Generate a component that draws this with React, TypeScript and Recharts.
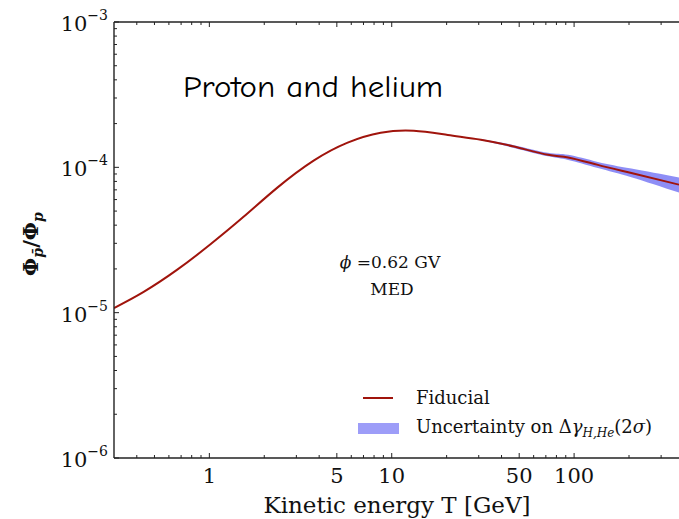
import React from 'react';
import { ComposedChart, Line, Area, XAxis, YAxis } from 'recharts';

// Kinetic energy T [GeV]
const energies = [0.3, 0.434, 0.667, 1.01, 1.54, 2.36, 3.73, 5.73, 8.7, 13.2, 20.3, 30.8, 46.8, 71.9, 92.7, 135, 206, 376];
// Fiducial antiproton / proton ratio
const fiducial = [1.076e-5, 1.384e-5, 1.976e-5, 2.942e-5, 4.563e-5, 7.25e-5, 1.112e-4, 1.479e-4, 1.73e-4, 1.786e-4, 1.67e-4, 1.55e-4, 1.39e-4, 1.22e-4, 1.17e-4, 1.04e-4, 9.14e-5, 7.6e-5];
// Uncertainty band on Delta gamma_{H,He} (2 sigma)
const bandLow = [null, null, null, null, null, null, null, null, null, null, null, 1.535e-4, 1.36e-4, 1.19e-4, 1.125e-4, 0.99e-4, 0.855e-4, 0.67e-4];
const bandHigh = [null, null, null, null, null, null, null, null, null, null, null, 1.565e-4, 1.42e-4, 1.26e-4, 1.22e-4, 1.09e-4, 0.98e-4, 0.85e-4];

const xTicks = [0.4, 0.5, 0.6, 0.7, 0.8, 0.9, 1, 2, 3, 4, 5, 6, 7, 8, 9, 10, 20, 30, 40, 50, 60, 70, 80, 90, 100, 200, 300];
const xLabeled = [1, 5, 10, 50, 100];
const yTicks = [
  1e-6, 2e-6, 3e-6, 4e-6, 5e-6, 6e-6, 7e-6, 8e-6, 9e-6,
  1e-5, 2e-5, 3e-5, 4e-5, 5e-5, 6e-5, 7e-5, 8e-5, 9e-5,
  1e-4, 2e-4, 3e-4, 4e-4, 5e-4, 6e-4, 7e-4, 8e-4, 9e-4, 1e-3,
];

const data = energies.map((T, i) => ({
  T,
  fid: fiducial[i],
  band: bandLow[i] != null ? [bandLow[i], bandHigh[i]] : undefined,
}));

const SERIF = "'DejaVu Serif', serif";
const AXIS = '#222';

const isMajorY = (v: number) => Math.abs(Math.log10(v) - Math.round(Math.log10(v))) < 1e-6;

const XTickBottom = (props: any) => {
  const { x, y, payload } = props;
  const v = payload.value;
  const lab = xLabeled.includes(v);
  const len = lab ? 5 : 3;
  return (
    <g>
      <line x1={x} x2={x} y1={y} y2={y - len} stroke={AXIS} strokeWidth={1} />
      {lab && (
        <text x={x} y={y + 25} textAnchor="middle" fontFamily={SERIF} fontSize={21} fill="#111">
          {v}
        </text>
      )}
    </g>
  );
};

const XTickTop = (props: any) => {
  const { x, y, payload } = props;
  const v = payload.value;
  const lab = xLabeled.includes(v);
  const len = lab ? 5 : 3;
  return <line x1={x} x2={x} y1={y} y2={y + len} stroke={AXIS} strokeWidth={1} />;
};

const YTick = (props: any) => {
  const { x, y, payload } = props;
  const v = payload.value;
  const major = isMajorY(v);
  const len = major ? 5 : 3;
  const exp = Math.round(Math.log10(v));
  return (
    <g>
      <line x1={x} x2={x + len} y1={y} y2={y} stroke={AXIS} strokeWidth={1} />
      {major && (
        <text x={x - 6} y={y + 9} textAnchor="end" fontFamily={SERIF} fill="#111">
          <tspan fontSize={21}>10</tspan>
          <tspan fontSize={14} dy={-11}>{'\u2212' + Math.abs(exp)}</tspan>
        </text>
      )}
    </g>
  );
};

export default function App() {
  return (
    <div style={{ position: 'absolute', left: 0, top: 0, width: 679, height: 519, overflow: 'hidden', background: '#fff' }}>
      <ComposedChart width={679} height={519} data={data} margin={{ top: 0, right: 0, bottom: 0, left: 0 }}>
        <XAxis
          dataKey="T"
          type="number"
          scale="log"
          domain={[0.3, 376]}
          allowDataOverflow
          ticks={xTicks}
          interval={0}
          tick={<XTickBottom />}
          tickLine={false}
          tickSize={0}
          tickMargin={0}
          height={61}
          axisLine={{ stroke: AXIS, strokeWidth: 1.4 }}
        />
        <XAxis
          xAxisId="top"
          orientation="top"
          dataKey="T"
          type="number"
          scale="log"
          domain={[0.3, 376]}
          allowDataOverflow
          ticks={xTicks}
          interval={0}
          tick={<XTickTop />}
          tickLine={false}
          tickSize={0}
          tickMargin={0}
          height={22}
          axisLine={{ stroke: AXIS, strokeWidth: 1.4 }}
        />
        <YAxis
          type="number"
          scale="log"
          domain={[1e-6, 1e-3]}
          allowDataOverflow
          ticks={yTicks}
          interval={0}
          tick={<YTick />}
          tickLine={false}
          tickSize={0}
          tickMargin={0}
          width={114}
          axisLine={{ stroke: AXIS, strokeWidth: 1.4 }}
        />
        <Area
          dataKey="band"
          type="natural"
          stroke="none"
          fill="#7a7af5"
          fillOpacity={0.85}
          isAnimationActive={false}
          connectNulls={false}
        />
        <Line
          dataKey="fid"
          type="natural"
          stroke="#a0140c"
          strokeWidth={2}
          dot={false}
          isAnimationActive={false}
        />
      </ComposedChart>
      <svg width={679} height={519} style={{ position: 'absolute', left: 0, top: 0, pointerEvents: 'none' }}>
        <text x={183} y={97} fontFamily="'Comic Sans MS', 'Comic Neue', 'Open Sans', sans-serif" fontSize={30} fill="#000" textLength={260} lengthAdjust="spacingAndGlyphs">
          Proton and helium
        </text>
        <text x={390} y={268} textAnchor="middle" fontFamily={SERIF} fontSize={17} fill="#111">
          <tspan fontStyle="italic">{'\u03d5'}</tspan>
          <tspan> =0.62 GV</tspan>
        </text>
        <text x={392} y={295} textAnchor="middle" fontFamily={SERIF} fontSize={17} fill="#111">
          MED
        </text>
        <text x={397} y={513} textAnchor="middle" fontFamily={SERIF} fontSize={23} fill="#111">
          Kinetic energy T [GeV]
        </text>
        <text transform="translate(38,244) rotate(-90)" textAnchor="middle" fontFamily={SERIF} fontWeight="bold" fill="#111">
          <tspan fontSize={21}>{'\u03a6'}</tspan>
          <tspan fontSize={14} fontStyle="italic" dy={5}>{'p\u0304'}</tspan>
          <tspan fontSize={21} dy={-5}>/</tspan>
          <tspan fontSize={21}>{'\u03a6'}</tspan>
          <tspan fontSize={14} fontStyle="italic" dy={5}>p</tspan>
        </text>
        {/* legend */}
        <line x1={363} x2={393} y1={398} y2={398} stroke="#a0140c" strokeWidth={2} />
        <text x={416} y={404} fontFamily={SERIF} fontSize={18} fill="#111">Fiducial</text>
        <rect x={358} y={423} width={41} height={11} fill="#9d9df8" />
        <text x={416} y={433} fontFamily={SERIF} fontSize={18} fill="#111">
          <tspan>Uncertainty on {'\u0394'}</tspan>
          <tspan fontStyle="italic">{'\u03b3'}</tspan>
          <tspan fontStyle="italic" fontSize={12} dy={4}>H,He</tspan>
          <tspan dy={-4}>(2</tspan>
          <tspan fontStyle="italic">{'\u03c3'}</tspan>
          <tspan>)</tspan>
        </text>
      </svg>
    </div>
  );
}
